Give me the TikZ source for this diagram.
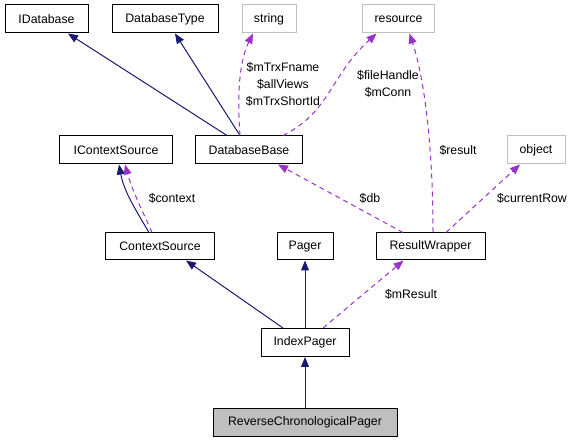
\documentclass[tikz,border=0pt]{standalone}
\usepackage{fontspec}
\setmainfont{Liberation Sans}
\usetikzlibrary{arrows.meta}
\definecolor{inhcol}{HTML}{191970}
\definecolor{usecol}{HTML}{9A32CD}
\definecolor{extgray}{HTML}{BFBFBF}
\tikzset{
  cls/.style={draw=black, line width=1pt, inner sep=0pt, minimum height=28pt, font=\fontsize{12.3}{14}\selectfont, fill=white},
  ext/.style={cls, draw=extgray},
  inh/.style={draw=inhcol, line width=1pt, -{Triangle[length=10pt,width=8pt]}, color=inhcol},
  use/.style={draw=usecol, line width=1pt, dash pattern=on 5pt off 4pt, -{Triangle[length=10pt,width=8pt]}, color=usecol},
  lbl/.style={font=\fontsize{12.3}{17}\selectfont, align=center, inner sep=0pt}
}
\begin{document}
\begin{tikzpicture}[x=1pt,y=-1pt]
\useasboundingbox (0,0) rectangle (576,443);
% nodes
\node[cls, minimum width=83pt] (idb) at (46.5,19) {IDatabase};
\node[cls, minimum width=106pt] (dbt) at (165,19) {DatabaseType};
\node[ext, minimum width=54pt] (str) at (269,19) {string};
\node[ext, minimum width=72pt] (res) at (398.5,19) {resource};
\node[cls, minimum width=113pt] (ics) at (116,150) {IContextSource};
\node[cls, minimum width=107pt] (dbb) at (249,150) {DatabaseBase};
\node[ext, minimum width=58pt] (obj) at (536,150) {object};
\node[cls, minimum width=109pt, minimum height=27pt] (cs) at (160,246.5) {ContextSource};
\node[cls, minimum width=56pt, minimum height=27pt] (pg) at (305,246.5) {Pager};
\node[cls, minimum width=109pt, minimum height=27pt] (rw) at (430.5,246.5) {ResultWrapper};
\node[cls, minimum width=88pt, minimum height=28pt] (ip) at (305,342.5) {IndexPager};
\node[cls, fill=extgray, minimum width=184pt, minimum height=28pt] (rcp) at (305,422.5) {ReverseChronologicalPager};
% inheritance edges
\draw[inh] ([xshift=-22pt]dbb.north) -- ([xshift=21.5pt]idb.south);
\draw[inh] ([xshift=-9pt]dbb.north) -- ([xshift=10pt]dbt.south);
\draw[inh] ([xshift=-11pt]cs.north) .. controls (137,212) and (124,192) .. ([xshift=3pt]ics.south);
\draw[inh] ([xshift=-22pt]ip.north) -- ([xshift=26pt]cs.south);
\draw[inh] (ip.north) -- (pg.south);
\draw[inh] (rcp.north) -- (ip.south);
% usage edges
\draw[use] ([xshift=-9pt]dbb.north) .. controls (238,108) and (237,66) .. ([xshift=-16pt]str.south);
\draw[use] ([xshift=34pt]dbb.north) .. controls (330,112) and (330,76) .. ([xshift=-22pt]res.south);
\draw[use] ([xshift=2.5pt]rw.north) .. controls (433,150) and (425,80) .. ([xshift=11pt]res.south);
\draw[use] ([xshift=15.5pt]rw.north) -- ([xshift=-16pt]obj.south);
\draw[use] ([xshift=-27.5pt]rw.north) -- ([xshift=29pt]dbb.south);
\draw[use] ([xshift=-8pt]cs.north) .. controls (143,212) and (132,190) .. ([xshift=9pt]ics.south);
\draw[use] ([xshift=18pt]ip.north) -- ([xshift=-27pt]rw.south);
% labels
\node[lbl] (l1) at (283,84) {\$mTrxFname\\\$allViews\\\$mTrxShortId};
\node[lbl] (l2) at (388,84) {\$fileHandle\\\$mConn};
\node[lbl] (l3) at (458,150) {\$result};
\node[lbl] (l4) at (532,198) {\$currentRow};
\node[lbl] (l5) at (370,198) {\$db};
\node[lbl] (l6) at (172,198) {\$context};
\node[lbl] (l7) at (411,294) {\$mResult};
\end{tikzpicture}
\end{document}
